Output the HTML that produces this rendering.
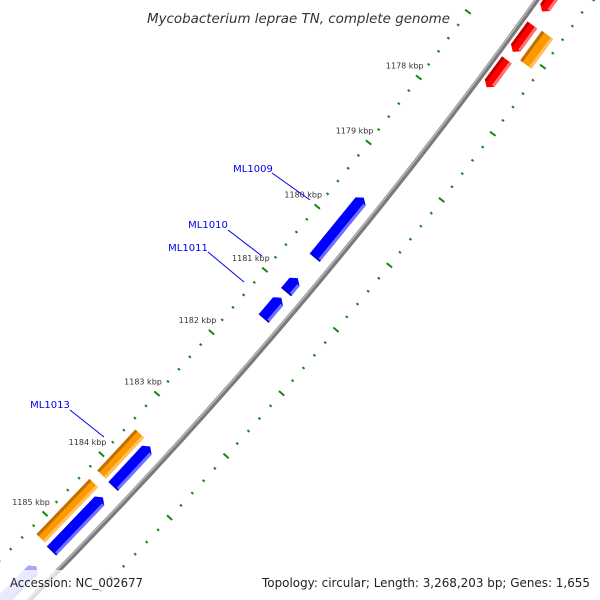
<!DOCTYPE html>
<html><head><meta charset="utf-8"><style>
html,body{margin:0;padding:0;background:#fff;width:600px;height:600px;overflow:hidden;}
svg{display:block;overflow:hidden;font-family:"DejaVu Sans","Liberation Sans",sans-serif;}
</style></head><body>
<svg id="map" width="600" height="600" viewBox="0 0 600 600" xmlns="http://www.w3.org/2000/svg">
<g id="ticks"></g>
<g id="backbone"></g>
<g id="genes"></g>
<g id="labels"></g>
<text x="147" y="23" textLength="303" lengthAdjust="spacingAndGlyphs" font-size="13.5" font-style="italic" fill="#333">Mycobacterium leprae TN, complete genome</text>
<rect x="0" y="570" width="600" height="30" fill="#fff" fill-opacity="0.75"/>
<text x="10" y="587" textLength="133" lengthAdjust="spacingAndGlyphs" font-size="12.5" fill="#222">Accession: NC_002677</text>
<text x="262" y="587" textLength="328" lengthAdjust="spacingAndGlyphs" font-size="12.5" fill="#222">Topology: circular; Length: 3,268,203 bp; Genes: 1,655</text>
</svg>
<script>
const majorTicks = [1176,1177,1178,1179,1180,1181,1182,1183,1184,1185,1186];
const tickLabels = ["1176 kbp","1177 kbp","1178 kbp","1179 kbp","1180 kbp","1181 kbp","1182 kbp","1183 kbp","1184 kbp","1185 kbp","1186 kbp"];
const geneNames = ["ML1009","ML1010","ML1011","g-a","g-b","ML1013","o-a","o-b","r-a","r-b","r-c","o-c"];
const geneStart = [1179.56,1180.82,1181.13,1183.53,1184.37,1185.53,1183.5,1184.32,1177.19,1176.67,1175.9,1176.66];
const geneEnd   = [1180.50,1181.04,1181.46,1184.19,1185.27,1186.4,1184.18,1185.25,1177.6,1177.07,1176.47,1177.1];
const geneTrack = ["fi","fi","fi","fi","fi","fi","oi","oi","ro","ro","ro","oo"];

const CX=-3484, CY=-2887, R0=4950;
const TH0=39.14, DEG_PER_KBP=0.96;
function ang(k){return (TH0+(k-1180)*DEG_PER_KBP)*Math.PI/180;}
function pt(k,r){const a=ang(k);return [CX+r*Math.cos(a), CY+r*Math.sin(a)];}
const NS="http://www.w3.org/2000/svg";
function mk(tag,attrs,parent){const e=document.createElementNS(NS,tag);for(const k in attrs)e.setAttribute(k,attrs[k]);parent.appendChild(e);return e;}

const bb=document.getElementById('backbone');
const c1=mk('circle',{cx:CX,cy:CY,r:R0,fill:'none',stroke:'#7a7a7a','stroke-width':5},bb);


const c2=mk('circle',{cx:CX,cy:CY,r:R0-1.3,fill:'none',stroke:'#b5b5b5','stroke-width':1.6},bb);



const tg=document.getElementById('ticks');
const rows=[4901,4994];
for(let i=Math.round(1174*5);i<=Math.round(1188*5);i++){
  const k=i/5; const major=(i%5===0);
  rows.forEach((r)=>{
    const len=major?7:2.6;
    const p1=pt(k,r-len/2), p2=pt(k,r+len/2);
    if(Math.max(p1[0],p2[0])<-10||Math.min(p1[0],p2[0])>610||Math.max(p1[1],p2[1])<-10||Math.min(p1[1],p2[1])>610) return;
    const l=mk('line',{x1:p1[0],y1:p1[1],x2:p2[0],y2:p2[1],stroke:'#118811','stroke-width':2},tg);
    
    
  });
}
majorTicks.forEach((k,i)=>{
  const p=pt(k,4901);
  if(p[1]-9<12||p[1]-9>600||p[0]<-20) return;
  const t=mk('text',{x:p[0]-14,y:p[1]-9,'text-anchor':'middle','font-size':'8',fill:'#333'},tg);
  t.textContent=tickLabels[i];
  
  
});

const trackR={fi:[4925,4938],oi:[4909,4921],ro:[4955,4967],oo:[4972,4986]};
const col={fi:['#0000ff','#7070ff','#0000c0'],oi:['#ff9900','#ffc060','#c07000'],ro:['#ff0000','#ff7070','#c00000'],oo:['#ff9900','#ffc060','#c07000']};
const gg=document.getElementById('genes');
function poly(pts){return pts.map(p=>p[0].toFixed(2)+','+p[1].toFixed(2)).join(' ');}
geneStart.forEach((s,i)=>{
  const e=geneEnd[i], tr=geneTrack[i], [r1,r2]=trackR[tr], cc=col[tr];
  const head=5/R0*180/Math.PI/DEG_PER_KBP;
  let shape, hl, dk;
  const rm=(r1+r2)/2;
  if(tr==='fi'){
    const h=Math.min(head,(e-s)/2);
    shape=[pt(s,rm),pt(s+h,r1),pt(e,r1),pt(e,r2),pt(s+h,r2)];
    hl=[pt(s+h,r2-3),pt(e,r2-3),pt(e,r2),pt(s+h,r2)];
    dk=[pt(e-0.02,r1),pt(e,r1),pt(e,r2),pt(e-0.02,r2)];
  } else if(tr==='ro'){
    const h=Math.min(head,(e-s)/2);
    shape=[pt(s,r1),pt(e-h,r1),pt(e,rm),pt(e-h,r2),pt(s,r2)];
    hl=[pt(s,r2-3),pt(e-h,r2-3),pt(e-h,r2),pt(s,r2)];
    dk=[pt(s,r1),pt(e-h,r1),pt(e-h,r1+3),pt(s,r1+3)];
  } else {
    shape=[pt(s,r1),pt(e,r1),pt(e,r2),pt(s,r2)];
    hl=[pt(s,r2-3),pt(e,r2-3),pt(e,r2),pt(s,r2)];
    dk=[pt(s,r1),pt(e,r1),pt(e,r1+3),pt(s,r1+3)];
  }
  const g=mk('g',{},gg);
  
  
  const op=(geneNames[i]==='ML1013')?0.35:1;
  mk('polygon',{points:poly(shape),fill:cc[0],'fill-opacity':op},g);
  mk('polygon',{points:poly(hl),fill:cc[1],'fill-opacity':op},g);
  mk('polygon',{points:poly(dk),fill:cc[2],'fill-opacity':op},g);
});

const lg=document.getElementById('labels');
const labelData=[["ML1009",253,172,272,173,310,200],["ML1010",208,228,228,230,262,256],["ML1011",188,251,208,252,244,282],["ML1013",50,408,70,410,104,437]];
labelData.forEach(d=>{
  const t=mk('text',{x:d[1],y:d[2],'text-anchor':'middle','font-size':'10',fill:'#0000ee'},lg);
  t.textContent=d[0];
  
  
  const l=mk('line',{x1:d[3],y1:d[4],x2:d[5],y2:d[6],stroke:'#0000ee','stroke-width':1},lg);
  
  
});
</script>
</body></html>
